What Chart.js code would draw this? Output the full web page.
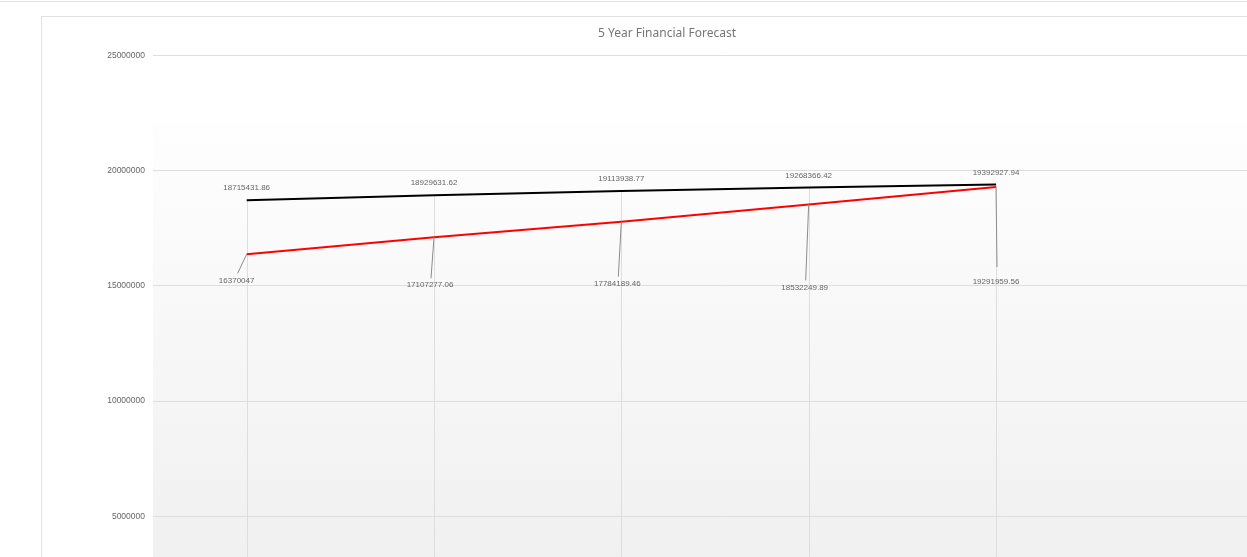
<!DOCTYPE html>
<html>
<head>
<meta charset="utf-8">
<script src="https://cdn.jsdelivr.net/npm/chart.js@4.4.1/dist/chart.umd.min.js"></script>
<style>
  html, body { margin: 0; padding: 0; background: #ffffff; overflow: hidden; width: 1247px; height: 557px; }
  #topline { position: absolute; left: 0; top: 1px; width: 1247px; height: 1px; background: #e4e4e4; }
  #card { position: absolute; left: 41px; top: 16px; width: 1300px; height: 700px;
          border-left: 1px solid #e2e2e2; border-top: 1px solid #e2e2e2; background: #fff; }
  #c { position: absolute; left: 0; top: 0; }
</style>
</head>
<body>
<div id="topline"></div>
<div id="card"><canvas id="c" width="1250" height="660"></canvas></div>
<script>
// ---- data ----
const years = ['Year 1', 'Year 2', 'Year 3', 'Year 4', 'Year 5'];
const forecastHigh = [18715431.86, 18929631.62, 19113938.77, 19268366.42, 19392927.94];
const forecastLow  = [16370047, 17107277.06, 17784189.46, 18532249.89, 19291959.56];
const yTicks = [0, 5000000, 10000000, 15000000, 20000000, 25000000];

// label placement for the lower series (dx, dy from the point, leader gap), in px
const lowLabelOffsets = [[-10, 27, 8], [-4, 48, 7], [-4, 62, 7], [-4, 83, 7], [0, 95, 15]];

const bgPlugin = {
  id: 'bg',
  beforeDraw(chart) {
    const {ctx, chartArea: a} = chart;
    const top = a.top + (a.bottom - a.top) * 0.117;
    const g = ctx.createLinearGradient(0, top, 0, a.bottom);
    g.addColorStop(0, '#fefefe');
    g.addColorStop(1, '#eeeeee');
    ctx.save();
    ctx.fillStyle = g;
    ctx.fillRect(a.left, top, a.right - a.left, a.bottom - top);
    ctx.restore();
  },
  beforeDatasetsDraw(chart) {
    // drop lines from the highest point of each category down to the axis
    const {ctx, chartArea: a} = chart;
    const m0 = chart.getDatasetMeta(0).data, m1 = chart.getDatasetMeta(1).data;
    ctx.save();
    ctx.strokeStyle = '#dedede';
    ctx.lineWidth = 1;
    m0.forEach((p, i) => {
      const x = Math.round(p.x) + 0.5;
      const y = Math.min(p.y, m1[i].y);
      ctx.beginPath();
      ctx.moveTo(x, y);
      ctx.lineTo(x, a.bottom);
      ctx.stroke();
    });
    ctx.restore();
  }
};

const labelPlugin = {
  id: 'valLabels',
  afterDatasetsDraw(chart) {
    const ctx = chart.ctx;
    ctx.save();
    ctx.font = '8px "Liberation Sans", Arial, sans-serif';
    ctx.fillStyle = '#666666';
    ctx.textAlign = 'center';
    ctx.textBaseline = 'middle';
    chart.getDatasetMeta(0).data.forEach((p, i) => {
      ctx.fillText(String(forecastHigh[i]), p.x, p.y - 12);
    });
    chart.getDatasetMeta(1).data.forEach((p, i) => {
      const [dx, dy, gap] = lowLabelOffsets[i];
      const lx = p.x + dx, ly = p.y + dy;
      ctx.strokeStyle = '#8c8c8c';
      ctx.lineWidth = 1;
      ctx.beginPath();
      ctx.moveTo(p.x, p.y);
      ctx.lineTo(lx + 1, ly - gap);
      ctx.stroke();
      ctx.fillText(String(forecastLow[i]), lx, ly);
    });
    ctx.restore();
  }
};

new Chart(document.getElementById('c'), {
  type: 'line',
  data: {
    datasets: [
      { label: 'Forecast', data: forecastHigh.map((v, i) => ({x: i + 1, y: v})),
        borderColor: '#000000', borderWidth: 2, pointRadius: 0, tension: 0, fill: false },
      { label: 'Base', data: forecastLow.map((v, i) => ({x: i + 1, y: v})),
        borderColor: '#ff0000', borderWidth: 2, pointRadius: 0, tension: 0, fill: false }
    ]
  },
  options: {
    responsive: false,
    animation: false,
    devicePixelRatio: 1,
    layout: { padding: 0 },
    plugins: {
      legend: { display: false },
      tooltip: { enabled: false },
      title: {
        display: true,
        text: '5 Year Financial Forecast',
        color: '#757575',
        font: { family: '"Noto Sans", sans-serif', size: 12, weight: 'normal' },
        padding: { top: 9, bottom: 15 }
      }
    },
    scales: {
      x: {
        type: 'linear',
        min: 0.5,
        max: 6.58,
        afterBuildTicks(scale) {
          scale.ticks = years.map((y, i) => ({ value: i + 1 }));
        },
        afterFit(scale) { scale.height = 45.5; },
        grid: { display: false },
        border: { display: false },
        ticks: {
          color: '#666666',
          font: { family: '"Liberation Sans", Arial, sans-serif', size: 9 },
          callback: (v) => years[v - 1] || ''
        }
      },
      y: {
        min: 0,
        max: 25000000,
        afterBuildTicks(scale) {
          scale.ticks = yTicks.map(v => ({ value: v }));
        },
        afterFit(scale) { scale.width = 111; },
        grid: { color: '#dedede', lineWidth: 1, drawTicks: false },
        border: { display: false },
        ticks: {
          padding: 8,
          color: '#666666',
          font: { family: '"Liberation Sans", Arial, sans-serif', size: 8.5 },
          callback: (v) => String(v)
        }
      }
    }
  },
  plugins: [bgPlugin, labelPlugin]
});
</script>
</body>
</html>
